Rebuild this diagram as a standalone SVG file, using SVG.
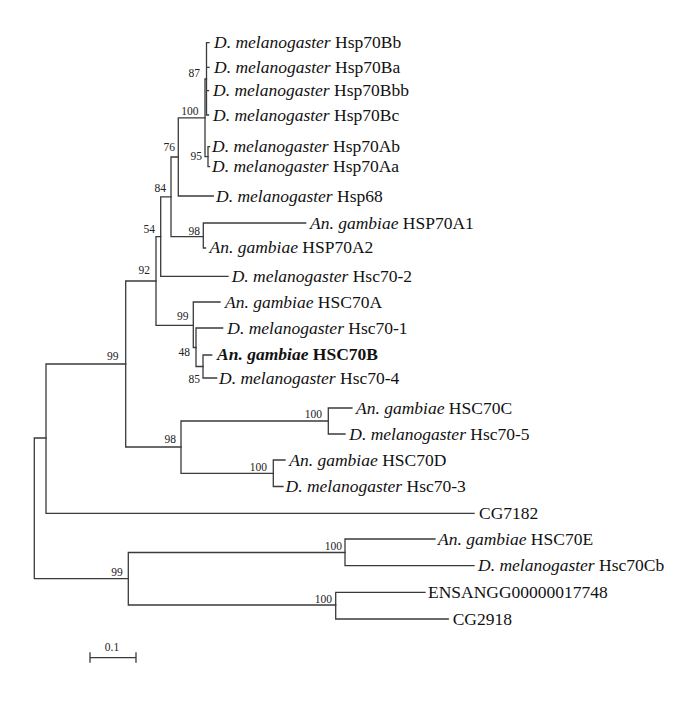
<svg xmlns="http://www.w3.org/2000/svg" width="685" height="718" viewBox="0 0 685 718">
<style>
.br{fill:none;stroke:#3a3a3a;stroke-width:1.3;stroke-linecap:square}
.lf{font-family:"Liberation Serif","Times New Roman",serif;font-size:17.5px;fill:#111}
.i{font-style:italic}
.b{font-weight:bold}
.bs{font-family:"Liberation Serif","Times New Roman",serif;font-size:11.5px;fill:#222;text-anchor:end}
.sc{font-family:"Liberation Serif","Times New Roman",serif;font-size:11.5px;fill:#222;text-anchor:middle}
</style>
<rect width="685" height="718" fill="#fff"/>
<g id="connectors" class="br">
<path d="M34.3 438V578.6M34.3 438H46M34.3 578.6H128.3"/>
<path d="M46 364V513.3M46 364H125.7M46 513.3H474"/>
<path d="M125.7 281V447M125.7 281H156M125.7 447H181"/>
<path d="M156 236.7V325.3M156 236.7H160.7M156 325.3H193.3"/>
<path d="M160.7 196.8V276.3M160.7 196.8H171M160.7 276.3H228"/>
<path d="M171 157V236.7M171 157H178.3M171 236.7H203.3"/>
<path d="M178.3 117.8V196M178.3 117.8H205M178.3 196H213.3"/>
<path d="M205 79V156.7M205 79H206.5M205 156.7H208"/>
<path d="M206.5 42.7V115M206.5 42.7H209M206.5 67.3H209M206.5 90.7H208.5M206.5 115H208.5"/>
<path d="M208 146.7V166.7M208 146.7H209.5M208 166.7H209.5"/>
<path d="M203.3 223V248M203.3 223H305.7M203.3 248H205.5"/>
<path d="M193.3 302V347.5M193.3 302H220M193.3 347.5H196"/>
<path d="M196 328V366.5M196 328H222.7M196 366.5H203"/>
<path d="M203 355V378M203 355H211.7M203 378H216.7"/>
<path d="M181 421V473.3M181 421H328.3M181 473.3H273.3"/>
<path d="M328.3 408V434M328.3 408H352M328.3 434H345"/>
<path d="M273.3 460V486.5M273.3 460H285M273.3 486.5H283"/>
<path d="M128.3 552.5V605M128.3 552.5H345M128.3 605H335.7"/>
<path d="M345 539V565.7M345 539H435M345 565.7H474"/>
<path d="M335.7 592.3V619M335.7 592.3H425M335.7 619H448.3"/>
</g>
<g id="leaves">
<g id="Hsp70Bb"><text class="lf" x="214" y="48.2"><tspan class="i">D. melanogaster</tspan> Hsp70Bb</text></g>
<g id="Hsp70Ba"><text class="lf" x="214" y="72.8"><tspan class="i">D. melanogaster</tspan> Hsp70Ba</text></g>
<g id="Hsp70Bbb"><text class="lf" x="213" y="96.2"><tspan class="i">D. melanogaster</tspan> Hsp70Bbb</text></g>
<g id="Hsp70Bc"><text class="lf" x="213" y="120.5"><tspan class="i">D. melanogaster</tspan> Hsp70Bc</text></g>
<g id="Hsp70Ab"><text class="lf" x="212" y="152.2"><tspan class="i">D. melanogaster</tspan> Hsp70Ab</text></g>
<g id="Hsp70Aa"><text class="lf" x="212" y="172.2"><tspan class="i">D. melanogaster</tspan> Hsp70Aa</text></g>
<g id="Hsp68"><text class="lf" x="216" y="201.5"><tspan class="i">D. melanogaster</tspan> Hsp68</text></g>
<g id="HSP70A1"><text class="lf" x="310" y="228.5"><tspan class="i">An. gambiae</tspan> HSP70A1</text></g>
<g id="HSP70A2"><text class="lf" x="209.5" y="253"><tspan class="i">An. gambiae</tspan> HSP70A2</text></g>
<g id="Hsc70-2"><text class="lf" x="231.7" y="281.8"><tspan class="i">D. melanogaster</tspan> Hsc70-2</text></g>
<g id="HSC70A"><text class="lf" x="225" y="307.5"><tspan class="i">An. gambiae</tspan> HSC70A</text></g>
<g id="Hsc70-1"><text class="lf" x="227.3" y="334"><tspan class="i">D. melanogaster</tspan> Hsc70-1</text></g>
<g id="HSC70B"><text class="lf b" x="217" y="360"><tspan class="i">An. gambiae</tspan> HSC70B</text></g>
<g id="Hsc70-4"><text class="lf" x="219" y="383.5"><tspan class="i">D. melanogaster</tspan> Hsc70-4</text></g>
<g id="HSC70C"><text class="lf" x="356" y="413.5"><tspan class="i">An. gambiae</tspan> HSC70C</text></g>
<g id="Hsc70-5"><text class="lf" x="349.3" y="439.5"><tspan class="i">D. melanogaster</tspan> Hsc70-5</text></g>
<g id="HSC70D"><text class="lf" x="289.3" y="465.5"><tspan class="i">An. gambiae</tspan> HSC70D</text></g>
<g id="Hsc70-3"><text class="lf" x="285.5" y="492"><tspan class="i">D. melanogaster</tspan> Hsc70-3</text></g>
<g id="CG7182"><text class="lf" x="479" y="518.8">CG7182</text></g>
<g id="HSC70E"><text class="lf" x="438" y="544.5"><tspan class="i">An. gambiae</tspan> HSC70E</text></g>
<g id="Hsc70Cb"><text class="lf" x="478" y="571.2"><tspan class="i">D. melanogaster</tspan> Hsc70Cb</text></g>
<g id="ENSANGG00000017748"><text class="lf" x="428" y="597.8">ENSANGG00000017748</text></g>
<g id="CG2918"><text class="lf" x="452.7" y="624.5">CG2918</text></g>
</g>
<g id="bootstrap">
<text class="bs" x="200" y="77">87</text>
<text class="bs" x="198.5" y="114.5">100</text>
<text class="bs" x="202" y="159.5">95</text>
<text class="bs" x="175" y="151">76</text>
<text class="bs" x="166" y="192">84</text>
<text class="bs" x="200" y="234.5">98</text>
<text class="bs" x="155" y="232.5">54</text>
<text class="bs" x="150" y="274">92</text>
<text class="bs" x="188.5" y="320">99</text>
<text class="bs" x="190" y="356">48</text>
<text class="bs" x="200" y="382.5">85</text>
<text class="bs" x="118.5" y="359.5">99</text>
<text class="bs" x="322" y="418">100</text>
<text class="bs" x="176" y="442.5">98</text>
<text class="bs" x="267" y="471">100</text>
<text class="bs" x="122.7" y="576">99</text>
<text class="bs" x="342" y="550">100</text>
<text class="bs" x="332" y="602.5">100</text>
</g>
<g id="scale-bar">
<path class="br" d="M90 657.7H136M90 653V662M136 653V662"/>
<text class="sc" x="112" y="651">0.1</text>
</g>
</svg>
